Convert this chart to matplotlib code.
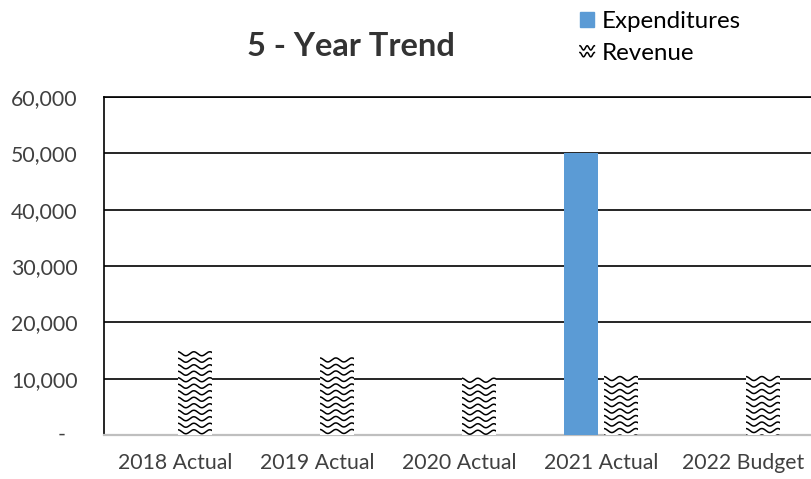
import numpy as np
import matplotlib
matplotlib.use("Agg")
import matplotlib.pyplot as plt
import matplotlib.transforms as mtransforms
from matplotlib.patches import Rectangle
from matplotlib.lines import Line2D
from matplotlib.legend_handler import HandlerBase
from matplotlib.ticker import FuncFormatter

categories = ["2018 Actual", "2019 Actual", "2020 Actual", "2021 Actual", "2022 Budget"]
expenditures = [0, 0, 0, 50000, 0]
revenue = [15000, 13900, 10300, 10600, 10600]
y_ticks = [0, 10000, 20000, 30000, 40000, 50000, 60000]

plt.rcParams["font.family"] = ["Lato", "DejaVu Sans"]

W, H = 812, 479
fig = plt.figure(figsize=(W / 100, H / 100), dpi=100)
ax_px = (104, 44, 710, 338)  # left, bottom, width, height in pixels
ax = fig.add_axes([ax_px[0] / W, ax_px[1] / H, ax_px[2] / W, ax_px[3] / H])

x = np.arange(len(categories))
bar_w = 0.24
offset = 0.14
ymax = 60000
ax.set_xlim(-0.5, len(categories) - 0.5)
ax.set_ylim(0, ymax)

BLUE = "#5b9bd5"
ax.bar(x - offset, expenditures, width=bar_w, color=BLUE, zorder=3, label="Expenditures")
rev_bars = ax.bar(x + offset, revenue, width=bar_w, color="white", zorder=3, label="Revenue")

# wavy fill pattern, sized in pixels and converted to data units
px_x = len(categories) / ax_px[2]
px_y = ymax / ax_px[3]
row_gap, period, amp = 6.5, 16.0, 2.0
for bar in rev_bars:
    x0, w, h = bar.get_x(), bar.get_width(), bar.get_height()
    xs = np.linspace(x0 - 0.05, x0 + w + 0.05, 200)
    n_rows = int(h / (row_gap * px_y)) + 2
    for k in range(n_rows):
        y0 = h - (k + 0.5) * row_gap * px_y
        ys = y0 + amp * px_y * np.cos(2 * np.pi * (xs - x0) / (period * px_x))
        ln = Line2D(xs, ys, color="black", lw=1.1, zorder=4)
        ax.add_line(ln)
        ln.set_clip_path(bar)

TICK_COLOR = "#404040"
ax.set_yticks(y_ticks)
ax.yaxis.set_major_formatter(FuncFormatter(lambda v, p: "" if v == 0 else f"{int(v):,}"))
ax.set_xticks(x)
ax.set_xticklabels(categories)
ax.tick_params(axis="both", length=0, labelsize=15.3, colors=TICK_COLOR)
ax.tick_params(axis="y", pad=19)
ax.tick_params(axis="x", pad=13)

# accounting-style dash for zero, set left of the number column
dash_tr = mtransforms.blended_transform_factory(fig.transFigure, ax.transData)
ax.text(66 / W, y_ticks[0], "-", transform=dash_tr, ha="right", va="center",
        fontsize=15.3, color=TICK_COLOR)

ax.grid(axis="y", color="black", lw=1.2, zorder=0)
ax.set_axisbelow(True)
ax.spines["right"].set_visible(False)
ax.spines["left"].set_color("black")
ax.spines["left"].set_linewidth(1.2)
ax.spines["top"].set_color("black")
ax.spines["top"].set_linewidth(1.2)
ax.spines["bottom"].set_color("#bfbfbf")
ax.spines["bottom"].set_linewidth(1.6)

fig.text(351 / W, 1 - 47 / H, "5 - Year Trend", ha="center", va="center",
         fontsize=23.5, fontweight="bold", color="#333333")


class WaveHandler(HandlerBase):
    def create_artists(self, legend, orig_handle, xdescent, ydescent, width, height, fontsize, trans):
        arts = []
        xs = np.linspace(0, width, 60)
        for frac in (0.72, 0.28):
            ys = height * frac + height * 0.14 * np.cos(2 * np.pi * xs / (width / 2))
            arts.append(Line2D(xs - xdescent, ys - ydescent, color="black", lw=1.1, transform=trans))
        return arts


handles = [Rectangle((0, 0), 1, 1, color=BLUE), Rectangle((0, 0), 1, 1, color="white")]
fig.legend(handles, ["Expenditures", "Revenue"], loc="upper left",
           bbox_to_anchor=(563 / W, 1 + 6 / H), frameon=False, fontsize=17.4,
           handlelength=0.6, handleheight=0.6, handletextpad=0.3, labelspacing=0.45,
           borderpad=0.2, handler_map={handles[1]: WaveHandler()}, labelcolor="black")

fig.savefig("out.png", dpi=100)
